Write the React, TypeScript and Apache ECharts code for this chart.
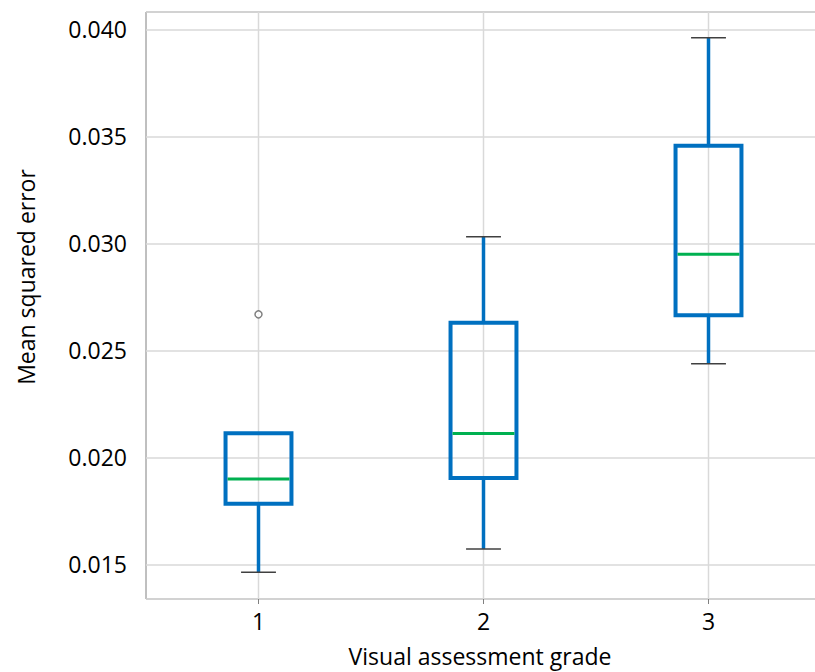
import React, { useEffect, useRef } from "react";
import * as echarts from "echarts";

const categories = ["1", "2", "3"];
const lowWhisker = [0.01463, 0.01572, 0.02437];
const q1 = [0.01783, 0.01903, 0.02664];
const median = [0.01899, 0.02111, 0.02949];
const q3 = [0.02112, 0.02629, 0.03456];
const highWhisker = [0.02112, 0.03031, 0.03961];
const outliers: [string, number][] = [["1", 0.02668]];
const yMin = 0.013379;
const yMax = 0.040808;

const FONT = "'Open Sans', sans-serif";
const BLUE = "#0070C0";
const GREEN = "#00B050";

export default function App() {
  const ref = useRef<HTMLDivElement>(null);
  useEffect(() => {
    if (!ref.current) return;
    const chart = echarts.init(ref.current, undefined, { renderer: "svg" });
    const boxData = categories.map((c, i) => [i, lowWhisker[i], q1[i], median[i], q3[i], highWhisker[i]]);
    chart.setOption({
      animation: false,
      backgroundColor: "#ffffff",
      grid: {
        left: 146,
        top: 12,
        width: 675,
        height: 587,
        outerBoundsMode: "none",
        containLabel: false,
        show: true,
        borderColor: "#808080",
        borderWidth: 1,
      },
      xAxis: {
        type: "category",
        data: categories,
        axisLine: { show: false },
        axisTick: { show: true, alignWithLabel: true, length: 5, lineStyle: { color: "#808080" } },
        axisLabel: { color: "#000", fontFamily: FONT, fontSize: 23, margin: 10 },
        splitLine: { show: false },
      },
      yAxis: {
        type: "value",
        min: yMin,
        max: yMax,
        axisLine: { show: false },
        axisTick: { show: false },
        axisLabel: {
          color: "#000",
          fontFamily: FONT,
          fontSize: 23,
          margin: 19,
          showMinLabel: false,
          showMaxLabel: false,
          formatter: (v: number) => {
            const k = v / 0.005;
            return Math.abs(k - Math.round(k)) < 1e-6 ? v.toFixed(3) : "";
          },
        },
        splitLine: { show: true, lineStyle: { color: "#d9d9d9", width: 1.5 } },
      },
      graphic: [
        {
          type: "text",
          x: 26,
          y: 277,
          rotation: Math.PI / 2,
          style: {
            text: "Mean squared error",
            font: `23px ${FONT}`,
            fill: "#000",
            textAlign: "center",
            textVerticalAlign: "middle",
          },
        },
        {
          type: "text",
          x: 480,
          y: 656,
          style: {
            text: "Visual assessment grade",
            font: `23px ${FONT}`,
            fill: "#000",
            textAlign: "center",
            textVerticalAlign: "middle",
          },
        },
      ],
      series: [
        {
          type: "custom",
          data: boxData,
          z: 3,
          renderItem: (params: any, api: any) => {
            const x = api.value(0);
            const band = api.size([1, 0])[0];
            const halfBox = (band * 0.293) / 2;
            const halfCap = (band * 0.155) / 2;
            const pLo = api.coord([x, api.value(1)]);
            const pQ1 = api.coord([x, api.value(2)]);
            const pMed = api.coord([x, api.value(3)]);
            const pQ3 = api.coord([x, api.value(4)]);
            const pHi = api.coord([x, api.value(5)]);
            const cs = params.coordSys;
            const cx = pQ1[0];
            const children: any[] = [
              {
                type: "line",
                shape: { x1: cx, y1: cs.y, x2: cx, y2: cs.y + cs.height },
                style: { stroke: "#d9d9d9", lineWidth: 1.5 },
              },
              {
                type: "line",
                shape: { x1: cx, y1: pQ1[1], x2: cx, y2: pLo[1] },
                style: { stroke: BLUE, lineWidth: 3.5 },
              },
              {
                type: "line",
                shape: { x1: cx - halfCap, y1: pLo[1], x2: cx + halfCap, y2: pLo[1] },
                style: { stroke: "#404040", lineWidth: 1.5 },
              },
            ];
            if (api.value(5) > api.value(4)) {
              children.push(
                {
                  type: "line",
                  shape: { x1: cx, y1: pQ3[1], x2: cx, y2: pHi[1] },
                  style: { stroke: BLUE, lineWidth: 3.5 },
                },
                {
                  type: "line",
                  shape: { x1: cx - halfCap, y1: pHi[1], x2: cx + halfCap, y2: pHi[1] },
                  style: { stroke: "#404040", lineWidth: 1.5 },
                }
              );
            }
            children.push(
              {
                type: "rect",
                shape: { x: cx - halfBox, y: pQ3[1], width: halfBox * 2, height: pQ1[1] - pQ3[1] },
                style: { fill: "none", stroke: BLUE, lineWidth: 4 },
              },
              {
                type: "line",
                shape: { x1: cx - halfBox + 2, y1: pMed[1], x2: cx + halfBox - 2, y2: pMed[1] },
                style: { stroke: GREEN, lineWidth: 3 },
              }
            );
            return { type: "group", children };
          },
        },
        {
          type: "scatter",
          data: outliers,
          symbol: "circle",
          symbolSize: 7,
          z: 4,
          itemStyle: { color: "#ffffff", borderColor: "#606060", borderWidth: 1.5 },
        },
      ],
    });
    return () => chart.dispose();
  }, []);
  return (
    <div
      ref={ref}
      style={{ position: "absolute", left: 0, top: 0, width: 815, height: 672 }}
    />
  );
}
